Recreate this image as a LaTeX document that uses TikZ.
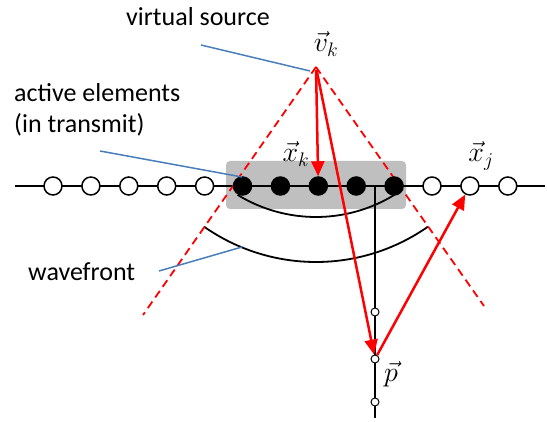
\RequirePackage{fix-cm}
\documentclass[tikz,border=0pt]{standalone}
\usepackage{fontspec}
\setmainfont{Carlito}
\usetikzlibrary{arrows.meta}
\definecolor{leaderblue}{RGB}{74,126,187}
\begin{document}
\begin{tikzpicture}[x=1pt, y=1pt, >={Triangle[length=15pt,width=13pt]},
  elem/.style={circle, draw, line width=1.5pt, fill=white, minimum size=18pt, inner sep=0pt},
  active/.style={elem, fill=black},
  probe/.style={circle, draw, line width=1pt, fill=white, minimum size=8pt, inner sep=0pt},
  lbl/.style={anchor=base west, inner sep=0pt, font=\fontsize{26}{30}\selectfont},
  vec/.style={font=\fontsize{28}{32}\selectfont},
  leader/.style={leaderblue, line width=1.5pt},
  ray/.style={red, line width=2.5pt, ->},
  cone/.style={red, line width=1.8pt, dash pattern=on 8pt off 5pt}]
  \useasboundingbox (0,0) rectangle (547,421);

  % aperture
  \fill[gray!50, rounded corners=4pt] (226,212) rectangle (406,260);

  \coordinate (vs) at (316,354);
  \coordinate (lineL) at (15,235);
  \coordinate (lineR) at (545,235);
  \draw[line width=2pt] (lineL) -- (lineR);

  % wavefronts around the virtual source
  \draw[line width=1.8pt] (vs) ++(238.5:150) arc[start angle=238.5, end angle=301.5, radius=150];
  \draw[line width=1.8pt] (vs) ++(235:195) arc[start angle=235, end angle=305, radius=195];

  \coordinate (coneL) at (143,106);
  \coordinate (coneR) at (484,115);
  \draw[cone] (vs) -- (coneL);
  \draw[cone] (vs) -- (coneR);

  % image line through p
  \coordinate (colTop) at (375,235);
  \coordinate (colBot) at (375,3);
  \draw[line width=1.5pt] (colTop) -- (colBot);
  \node[probe] (q1) at (375,109) {};
  \node[probe] (p) at (375,62) {};
  \node[probe] (q2) at (375,19) {};

  \foreach \i in {0,...,4,10,11,12}
    \node[elem] (e\i) at ({53+37.9*\i},235) {};
  \foreach \i in {5,...,9}
    \node[active] (e\i) at ({53+37.9*\i},235) {};

  \draw[ray, shorten <=3pt] (vs) -- (e7);
  \draw[ray, shorten <=3pt] (vs) -- (p);
  \draw[ray] (p) -- (e11);

  \node[vec] (vlab) at (326,377) {$\vec{v}_k$};
  \node[vec] (xklab) at (296,267) {$\vec{x}_k$};
  \node[vec] (xjlab) at (481,265) {$\vec{x}_j$};
  \node[vec] (plab) at (391,47) {$\vec{p}$};

  \node[lbl] (vstext) at (126,395) {virtual source};
  \node[lbl] (aetext) at (14,319) {active elements};
  \node[lbl] (ittext) at (14,288) {(in transmit)};
  \node[lbl] (wftext) at (28,140) {wavefront};

  \draw[leader] (201,376) -- (310,350);
  \draw[leader] (100,270) -- (242,244);
  \draw[leader] (159,150) -- (242,174);
\end{tikzpicture}
\end{document}
